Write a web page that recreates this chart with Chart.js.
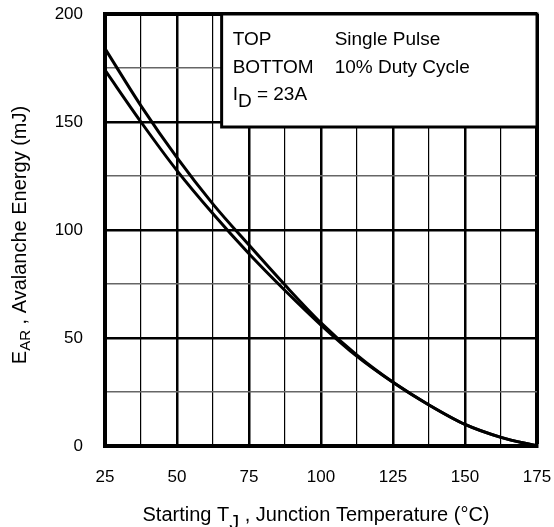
<!DOCTYPE html>
<html>
<head>
<meta charset="utf-8">
<script src="https://cdn.jsdelivr.net/npm/chart.js@4/dist/chart.umd.min.js"></script>
<style>
  body { margin: 0; background: #fff; }
  #wrap { width: 554px; height: 527px; }
</style>
</head>
<body>
<div id="wrap"><canvas id="myChart" width="554" height="527"></canvas></div>
<script>
// Starting junction temperature (°C)
const temps = [25, 37.5, 50, 62.5, 75, 87.5, 100, 112.5, 125, 137.5, 150, 162.5, 175];
// avalanche energy (mJ), TOP curve
const singlePulse = [184, 157.5, 133.5, 112, 93, 74.5, 57, 42, 29.5, 19, 10, 4, 0];
// avalanche energy (mJ), BOTTOM curve
const dutyCycle10 = [174, 150, 127.5, 107.5, 89, 72, 56, 41.5, 29.5, 19, 10, 4, 0];

const xTicks = [25, 50, 75, 100, 125, 150, 175];
const yTicks = [0, 50, 100, 150, 200];

const legendRows = [
    ['TOP', 'Single Pulse'],
    ['BOTTOM', '10% Duty Cycle']
];
const currentLabel = [{ t: 'I' }, { t: 'D', sub: true }, { t: ' = 23A' }];
const xTitle = [{ t: 'Starting T' }, { t: 'J', sub: true }, { t: ' , Junction Temperature (°C)' }];
const yTitle = [{ t: 'E' }, { t: 'AR', sub: true }, { t: ' , Avalanche Energy (mJ)' }];

const FONT = '"Liberation Sans", Arial, Helvetica, sans-serif';

// draws text with subscript pieces, x is the centre or the left edge
function drawRich(ctx, parts, x, y, size, subSize, subDrop, centred) {
    let total = 0;
    parts.forEach(p => {
        ctx.font = (p.sub ? subSize : size) + 'px ' + FONT;
        total += ctx.measureText(p.t).width;
    });
    let cx = centred ? x - total / 2 : x;
    ctx.textAlign = 'left';
    ctx.textBaseline = 'alphabetic';
    parts.forEach(p => {
        ctx.font = (p.sub ? subSize : size) + 'px ' + FONT;
        ctx.fillText(p.t, cx, p.sub ? y + subDrop : y);
        cx += ctx.measureText(p.t).width;
    });
}

const extrasPlugin = {
    id: 'extras',
    afterDraw(chart) {
        const ctx = chart.ctx;
        const { left, right, top, bottom } = chart.chartArea;
        ctx.save();

        // legend box in the upper right corner
        const bx = left + (right - left) * 0.27;
        const bh = 113;
        ctx.fillStyle = '#fff';
        ctx.fillRect(bx, top, right - bx, bh);
        ctx.strokeStyle = '#000';
        ctx.lineWidth = 3;
        ctx.strokeRect(bx, top, right - bx, bh);
        ctx.fillStyle = '#000';
        ctx.font = '19px ' + FONT;
        ctx.textAlign = 'left';
        ctx.textBaseline = 'alphabetic';
        legendRows.forEach((row, i) => {
            ctx.fillText(row[0], bx + 11, top + 31 + i * 27.5);
            ctx.fillText(row[1], bx + 113, top + 31 + i * 27.5);
        });
        drawRich(ctx, currentLabel, bx + 11, top + 86, 19, 19, 7, false);

        // axis titles
        drawRich(ctx, xTitle, (left + right) / 2 - 5, 521, 20, 20, 8, true);
        ctx.restore();

        ctx.save();
        ctx.fillStyle = '#000';
        ctx.translate(26, (top + bottom) / 2 + 5);
        ctx.rotate(-Math.PI / 2);
        drawRich(ctx, yTitle, 0, 0, 20, 15, 4, true);
        ctx.restore();
    }
};

const ctx = document.getElementById('myChart').getContext('2d');
const myChart = new Chart(ctx, {
    type: 'line',
    data: {
        datasets: [{
            label: 'Single Pulse',
            data: temps.map((t, i) => ({ x: t, y: singlePulse[i] })),
            borderColor: '#000',
            borderWidth: 3,
            pointRadius: 0,
            cubicInterpolationMode: 'monotone'
        }, {
            label: '10% Duty Cycle',
            data: temps.map((t, i) => ({ x: t, y: dutyCycle10[i] })),
            borderColor: '#000',
            borderWidth: 3,
            pointRadius: 0,
            cubicInterpolationMode: 'monotone'
        }]
    },
    options: {
        responsive: false,
        animation: false,
        devicePixelRatio: 1,
        layout: { padding: { top: 14, right: 17, left: 0, bottom: 0 } },
        plugins: {
            legend: { display: false },
            tooltip: { enabled: false }
        },
        scales: {
            x: {
                type: 'linear',
                min: 25,
                max: 175,
                afterFit(scale) {
                    scale.height = 81;
                    scale.paddingLeft = 0;
                    scale.paddingRight = 0;
                },
                ticks: {
                    stepSize: 12.5,
                    autoSkip: false,
                    maxRotation: 0,
                    padding: 21,
                    color: '#000',
                    font: { family: FONT, size: 17 },
                    callback: v => xTicks.includes(v) ? String(v) : ''
                },
                grid: {
                    drawTicks: false,
                    color: '#000',
                    lineWidth: c => (c.tick.value === 175 ? 4 : (c.tick.value % 25 === 0 ? 2.5 : 1.2))
                },
                border: { color: '#000', width: 4 }
            },
            y: {
                min: 0,
                max: 200,
                afterFit(scale) {
                    scale.width = 105;
                    scale.paddingTop = 0;
                    scale.paddingBottom = 0;
                },
                ticks: {
                    stepSize: 25,
                    autoSkip: false,
                    padding: 22,
                    color: '#000',
                    font: { family: FONT, size: 17 },
                    callback: v => yTicks.includes(v) ? String(v) : ''
                },
                grid: {
                    drawTicks: false,
                    color: c => (c.tick.value % 50 === 0 ? '#000' : '#666'),
                    lineWidth: c => (c.tick.value === 200 ? 4 : (c.tick.value % 50 === 0 ? 2.5 : 1.5))
                },
                border: { color: '#000', width: 4 }
            }
        }
    },
    plugins: [extrasPlugin]
});
</script>
</body>
</html>
